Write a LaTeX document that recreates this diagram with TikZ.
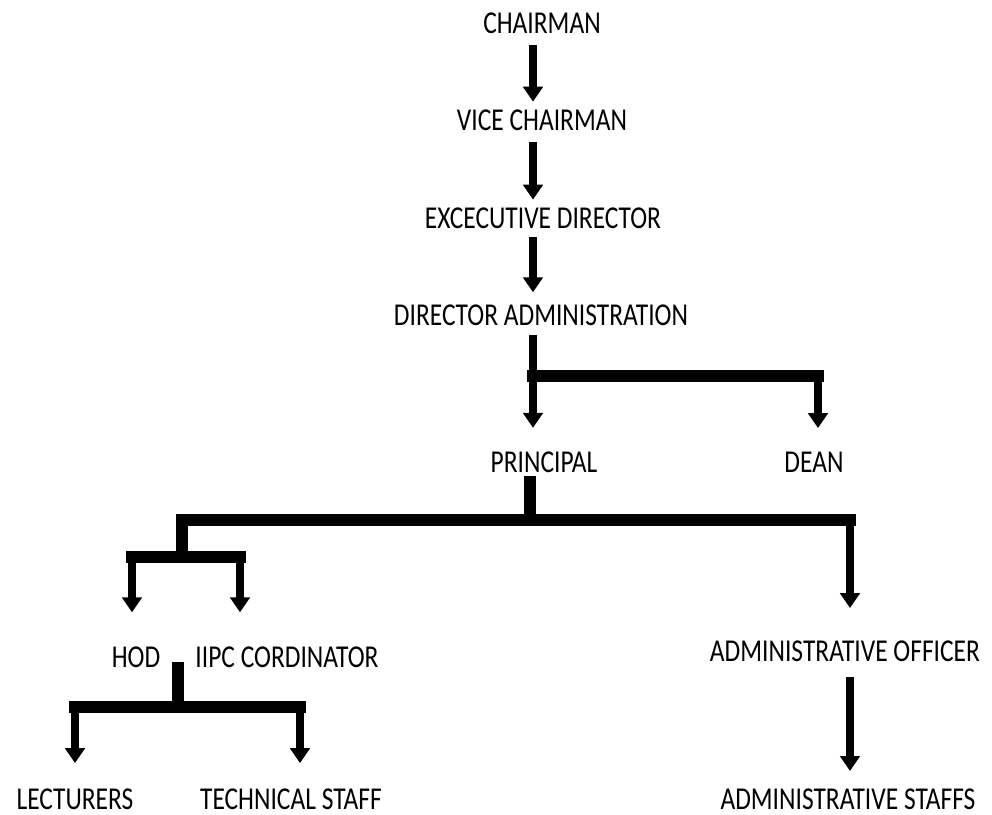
\documentclass[tikz,border=0pt]{standalone}
\usepackage{fontspec}
\setmainfont{Carlito}
\usetikzlibrary{positioning,arrows.meta}

% taller letters, as in the chart
\newcommand{\tallcaps}[1]{\scalebox{1}[1.25]{#1}}

\begin{document}
\begin{tikzpicture}[x=0.02cm,y=-0.02cm,
    every node/.style={inner sep=0pt, outer sep=0pt, font=\fontsize{14.5}{17}\selectfont},
    arr/.style={line width=4.5pt, -{Triangle[length=8.5pt,width=11pt]}},
    bar/.style={line width=6.5pt, line cap=rect, line join=miter}]
    \useasboundingbox (0,0) rectangle (992,815);

    % Top of the chain
    \node (chair)  at (542,23)  {\tallcaps{CHAIRMAN}};
    \node (vice)   at (542,120) {\tallcaps{VICE CHAIRMAN}};
    \node (exec)   at (543,218) {\tallcaps{EXCECUTIVE DIRECTOR}};
    \node (diradm) at (541,315) {\tallcaps{DIRECTOR ADMINISTRATION}};
    \node (prin)   at (544,462) {\tallcaps{PRINCIPAL}};
    \node (dean)   at (814,462) {\tallcaps{DEAN}};

    % Lower levels
    \node (hod)    at (136,657) {\tallcaps{HOD}};
    \node (iipc)   at (287,657) {\tallcaps{IIPC CORDINATOR}};
    \node (ao)     at (845,651) {\tallcaps{ADMINISTRATIVE OFFICER}};
    \node (lect)   at (75,799)  {\tallcaps{LECTURERS}};
    \node (tech)   at (291,799) {\tallcaps{TECHNICAL STAFF}};
    \node (astaff) at (848,799) {\tallcaps{ADMINISTRATIVE STAFFS}};

    % Junction points
    \coordinate (spine) at (533,0);
    \coordinate (d1) at (533,376);  % to dean
    \coordinate (d2) at (818,376);
    \coordinate (p1) at (530,520);  % below principal
    \coordinate (p2) at (182,520);
    \coordinate (p3) at (850,520);
    \coordinate (h1) at (182,557);  % hod / iipc
    \coordinate (b1) at (132,557);
    \coordinate (b2) at (240,557);
    \coordinate (l1) at (178,707);  % lecturers / technical staff
    \coordinate (c1) at (75,707);
    \coordinate (c2) at (300,707);

    % Straight chain
    \draw[arr, shorten <=6.5pt, shorten >=4.5pt] (chair.south -| spine) -- (vice.north -| spine);
    \draw[arr, shorten <=6.5pt, shorten >=4.5pt] (vice.south -| spine) -- (exec.north -| spine);
    \draw[arr, shorten <=5pt, shorten >=7pt] (exec.south -| spine) -- (diradm.north -| spine);

    % Director administration to principal and dean
    \draw[arr, shorten <=5.5pt, shorten >=13.5pt] (diradm.south -| spine) -- (prin.north -| spine);
    \draw[bar] (d1) -- (d2);
    \draw[arr, shorten >=13.5pt] (d2) -- (dean.north -| d2);

    % Principal branches
    \draw[bar, shorten <=5.5pt] (prin.south -| p1) -- (p1);
    \draw[bar] (p3) -- (p2) -- (h1);
    \draw[bar] (b1) -- (b2);
    \draw[arr, shorten >=19.5pt] (b1) -- (hod.north -| b1);
    \draw[arr, shorten >=19.5pt] (b2) -- (iipc.north -| b2);
    \draw[arr, shorten >=18.5pt] (p3) -- (ao.north -| p3);

    % HOD / IIPC to staff
    \draw[bar] (hod.south -| l1) -- (l1);
    \draw[bar] (c1) -- (c2);
    \draw[arr, shorten >=14.5pt] (c1) -- (lect.north -| c1);
    \draw[arr, shorten >=14.5pt] (c2) -- (tech.north -| c2);

    % Administrative officer to staffs
    \draw[arr, shorten <=9pt, shorten >=10pt] (ao.south -| p3) -- (astaff.north -| p3);
\end{tikzpicture}
\end{document}
